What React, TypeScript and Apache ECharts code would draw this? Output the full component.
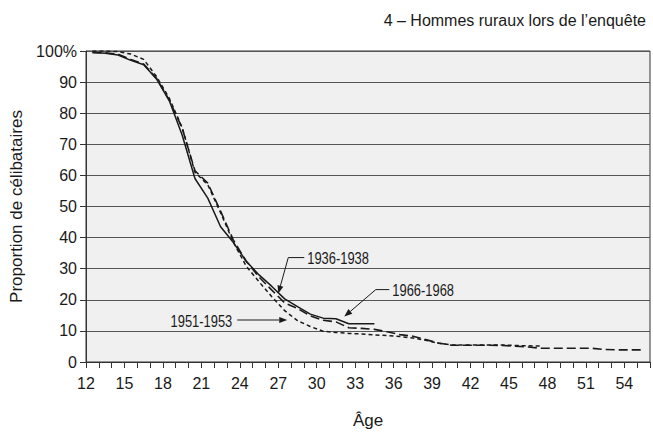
import React, { useEffect, useRef } from "react";
import * as echarts from "echarts";

// Ages (start of each one-year interval); points are drawn at mid-interval
const ages = [12, 13, 14, 15, 16, 17, 18, 19, 20, 21, 22, 23, 24, 25, 26, 27, 28, 29, 30, 31, 32, 33, 34, 35, 36, 37, 38, 39, 40, 41, 42, 43, 44, 45, 46, 47, 48, 49, 50, 51, 52, 53, 54, 55];

// Proportion of single men (%) by cohort
const cohort1936 = [99.5, 99.4, 99.0, 97.3, 95.8, 91.2, 84.2, 75.2, 61.5, 57.5, 48.5, 39.2, 32.4, 27.3, 23.1, 19.0, 17.2, 14.8, 13.4, 12.9, 11.0, 10.8, 10.5, 9.7, 8.8, 8.3, 7.2, 6.1, 5.4, 5.4, 5.4, 5.4, 5.3, 5.1, 4.8, 4.4, 4.4, 4.4, 4.4, 4.4, 4.0, 3.9, 3.9, 3.9];
const cohort1951 = [100, 100, 99.8, 99.0, 97.3, 91.8, 84.8, 75.4, 61.0, 57.0, 48.0, 38.5, 30.8, 25.8, 21.0, 16.5, 13.3, 11.4, 9.9, 9.5, 9.2, 9.0, 8.7, 8.5, 8.2, 7.7, 7.0, 6.0, 5.5, 5.5, 5.5, 5.5, 5.5, 5.3, 5.2, 5.1];
const cohort1966 = [99.5, 99.3, 98.7, 97.0, 95.6, 91.0, 84.0, 73.0, 59.0, 52.7, 43.5, 38.4, 32.4, 28.0, 24.3, 20.3, 17.8, 15.4, 14.1, 13.9, 12.3, 12.3, 12.3];

const seriesNames = ["1936-1938", "1951-1953", "1966-1968"];
const yTicks = [0, 10, 20, 30, 40, 50, 60, 70, 80, 90, 100];
const xLabelStep = 3;

const titleText = "4 \u2013 Hommes ruraux lors de l\u2019enqu\u00eate";
const yName = "Proportion de c\u00e9libataires";
const xName = "\u00c2ge";

const FONT = "'Liberation Sans Narrow', 'Arial Narrow', 'Liberation Sans', Arial, sans-serif";
const INK = "#1a1a1a";

// annotation anchors in data space [age, %] and label offsets in pixels
const annotations = [
  { label: seriesNames[0], at: [27.0, 22], bend: [10, -36], hEnd: [26, -36], text: [29, -36], align: "left" },
  { label: seriesNames[2], at: [32.15, 14.6], bend: [31.5, -27], hEnd: [45, -27], text: [48, -27], align: "left" },
  { label: seriesNames[1], at: [27.7, 13.5], bend: null, hEnd: [-50, 0], text: [-55, 1], align: "right" },
];

function toPairs(values: number[]) {
  return values.map((v, i) => [ages[i] + 0.5, v]);
}

export default function App() {
  const ref = useRef<HTMLDivElement>(null);
  useEffect(() => {
    if (!ref.current) return;
    const chart = echarts.init(ref.current, null, { renderer: "svg" });
    const option: any = {
      animation: false,
      backgroundColor: "#ffffff",
      textStyle: { fontFamily: FONT },
      title: {
        text: titleText,
        right: 2,
        top: 7,
        textStyle: { fontFamily: FONT, fontSize: 16, fontWeight: "normal", color: INK },
      },
      grid: {
        left: 86,
        right: 2,
        top: 51,
        bottom: 68,
        show: true,
        backgroundColor: "#f0f0f0",
        borderColor: "#333",
        borderWidth: 1,
      },
      xAxis: {
        type: "value",
        min: 12,
        max: 56,
        interval: 1,
        name: xName,
        nameLocation: "middle",
        nameGap: 50,
        nameTextStyle: { fontFamily: FONT, fontSize: 17, color: INK },
        axisLine: { show: true, lineStyle: { color: "#333", width: 1 } },
        axisTick: { show: true, length: 6, lineStyle: { color: "#333" } },
        axisLabel: {
          fontFamily: FONT,
          fontSize: 16,
          color: INK,
          margin: 13,
          formatter: (v: number) => ((v - ages[0]) % xLabelStep === 0 && v < 56 ? String(v) : ""),
        },
        splitLine: { show: false },
      },
      yAxis: {
        type: "value",
        min: yTicks[0],
        max: yTicks[yTicks.length - 1],
        interval: 10,
        name: yName,
        nameLocation: "middle",
        nameGap: 58,
        nameTextStyle: { fontFamily: FONT, fontSize: 17, color: INK },
        axisLine: { show: true, lineStyle: { color: "#333", width: 1 } },
        axisTick: { show: true, inside: false, length: 6, lineStyle: { color: "#333" } },
        axisLabel: {
          fontFamily: FONT,
          fontSize: 16,
          color: INK,
          margin: 9,
          formatter: (v: number) => (v === 100 ? "100%" : String(v)),
        },
        splitLine: { show: true, lineStyle: { color: "#555", width: 1 } },
      },
      series: [
        {
          name: seriesNames[0],
          type: "line",
          data: toPairs(cohort1936),
          symbol: "none",
          lineStyle: { color: INK, width: 1.6, type: [9, 4] },
          z: 3,
        },
        {
          name: seriesNames[1],
          type: "line",
          data: toPairs(cohort1951),
          symbol: "none",
          lineStyle: { color: INK, width: 1.5, type: [4, 3] },
          z: 2,
        },
        {
          name: seriesNames[2],
          type: "line",
          data: toPairs(cohort1966),
          symbol: "none",
          lineStyle: { color: INK, width: 1.5, type: "solid" },
          z: 4,
        },
      ],
    };
    chart.setOption(option);

    const graphics: any[] = [];
    annotations.forEach((a) => {
      const p = chart.convertToPixel({ gridIndex: 0 }, a.at as number[]) as number[];
      const tip = p;
      const hEnd = [p[0] + a.hEnd[0], p[1] + a.hEnd[1]];
      const pts: number[][] = a.bend ? [hEnd, [p[0] + a.bend[0], p[1] + a.bend[1]], tip] : [hEnd, tip];
      const from = pts[pts.length - 2];
      const dx = tip[0] - from[0];
      const dy = tip[1] - from[1];
      const len = Math.sqrt(dx * dx + dy * dy);
      const ux = dx / len;
      const uy = dy / len;
      const base = [tip[0] - ux * 8, tip[1] - uy * 8];
      const nx = -uy * 3;
      const ny = ux * 3;
      const shaft = pts.slice(0, -1).concat([base]);
      graphics.push({
        type: "polyline",
        shape: { points: shaft },
        style: { stroke: INK, lineWidth: 1, fill: null },
        z: 10,
      });
      graphics.push({
        type: "polygon",
        shape: { points: [tip, [base[0] + nx, base[1] + ny], [base[0] - nx, base[1] - ny]] },
        style: { fill: INK, stroke: null },
        z: 10,
      });
      graphics.push({
        type: "text",
        x: p[0] + a.text[0],
        y: p[1] + a.text[1],
        scaleX: 0.76,
        style: {
          text: a.label,
          fontFamily: FONT,
          fontSize: 17,
          fill: INK,
          textAlign: a.align,
          textVerticalAlign: "middle",
        },
        z: 10,
      });
    });
    chart.setOption({ graphic: graphics });

    return () => chart.dispose();
  }, []);
  return <div ref={ref} style={{ position: "fixed", left: 0, top: 0, width: 653, height: 434 }} />;
}
